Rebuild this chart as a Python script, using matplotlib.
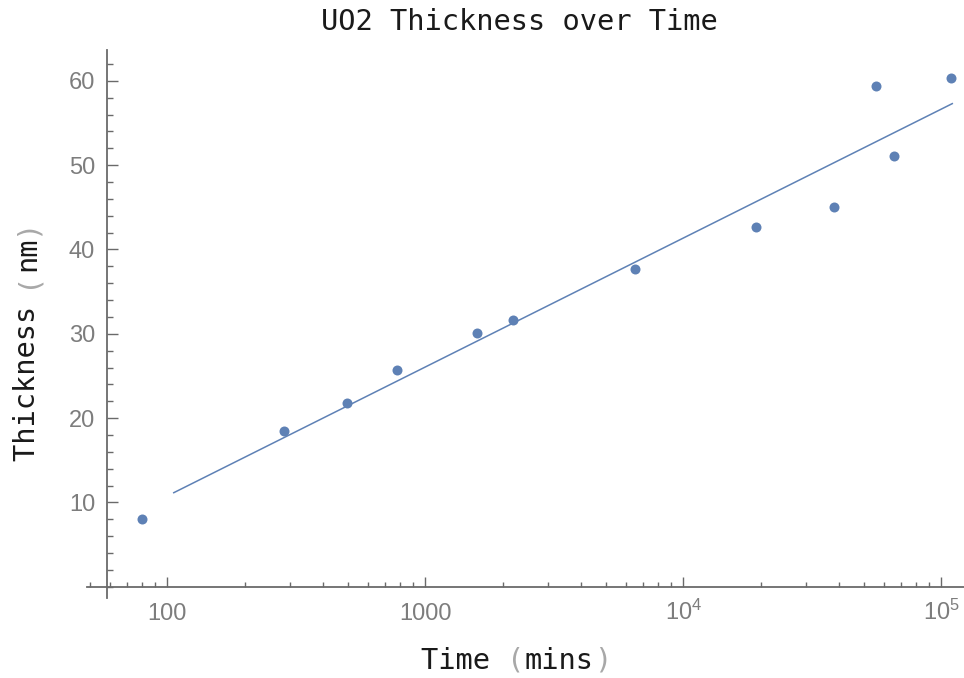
import numpy as np
import matplotlib
matplotlib.use('Agg')
import matplotlib.pyplot as plt
from matplotlib import ticker

plt.rcParams['mathtext.fontset'] = 'custom'
plt.rcParams['mathtext.rm'] = 'Liberation Sans'

# oxide growth measurements
time_min = [80, 284, 497, 780, 1590, 2190, 6500, 19060, 38300, 55700, 65300, 108600]
thickness_nm = [8.0, 18.5, 21.75, 25.7, 30.1, 31.6, 37.65, 42.7, 45.0, 59.4, 51.05, 60.3]

# end points of the log fit line
fit_time = [106, 110300]
fit_thick = [11.15, 57.3]

x_ticks = [100, 1000, 1e4, 1e5]
x_labels = ['100', '1000', r'$\mathregular{10^4}$', r'$\mathregular{10^5}$']
y_ticks = [10, 20, 30, 40, 50, 60]

blue = '#5e81b5'
axis_col = '#6a6a6a'
tick_col = '#7d7d7d'
mono = 'DejaVu Sans Mono'

W, H = 964, 678
fig = plt.figure(figsize=(W / 100, H / 100), dpi=100)
ax = fig.add_axes([87 / W, 1 - 598 / H, 877 / W, 548 / H])

ax.plot(fit_time, fit_thick, color=blue, lw=1.1, zorder=2)
ax.plot(time_min, thickness_nm, 'o', color=blue, ms=7.2, mec='none', zorder=3)

ax.set_xscale('log')
ax.set_xlim(10 ** 1.689, 10 ** 5.088)
ax.set_ylim(-1.34, 63.66)

# axes cross at (58, 0)
for s in ['top', 'right']:
    ax.spines[s].set_visible(False)
ax.spines['left'].set_position(('data', 58.3))
ax.spines['bottom'].set_position(('data', 0))
for s in ['left', 'bottom']:
    ax.spines[s].set_color(axis_col)
    ax.spines[s].set_linewidth(1.3)

ax.xaxis.set_major_locator(ticker.FixedLocator(x_ticks))
ax.xaxis.set_minor_locator(ticker.LogLocator(base=10, subs=np.arange(2, 10)))
ax.xaxis.set_minor_formatter(ticker.NullFormatter())
ax.set_xticks(x_ticks)
ax.set_xticklabels(x_labels, va='baseline', fontsize=17, color=tick_col,
                   family='Liberation Sans')

ax.set_yticks(y_ticks)
ax.yaxis.set_minor_locator(ticker.MultipleLocator(2))
ax.set_yticklabels([str(v) for v in y_ticks], fontsize=17, color=tick_col,
                   family='Liberation Sans')

ax.tick_params(axis='x', which='major', direction='in', length=7, width=1,
               color=axis_col, pad=24)
ax.tick_params(axis='x', which='minor', direction='in', length=3.5, width=1,
               color=axis_col)
ax.tick_params(axis='y', which='major', direction='in', length=8, width=1,
               color=axis_col, pad=8.4)
ax.tick_params(axis='y', which='minor', direction='in', length=4.5, width=1,
               color=axis_col)

fs = 20.7
pitch = 0.602 * fs  # monospace advance in points


def label(parts, x, y, rotation=0):
    # parts: list of (text, colour); laid out cell by cell in monospace
    n = sum(len(t) for t, _ in parts)
    k = 0
    for t, c in parts:
        off = (k + len(t) / 2 - n / 2) * pitch
        dx, dy = (0, off) if rotation else (off, 0)
        ax.annotate(t, xy=(x, y), xycoords='figure pixels', xytext=(dx, dy),
                    textcoords='offset points', ha='center', va='baseline',
                    rotation=rotation, rotation_mode='anchor', family=mono,
                    fontsize=fs, color=c, annotation_clip=False)
        k += len(t)


dark = '#1a1a1a'
paren = '#a8a8a8'
fig.text(519 / W, 1 - 30 / H, 'UO2 Thickness over Time', ha='center',
         va='baseline', family=mono, fontsize=fs, color=dark)
label([('Time ', dark), ('(', paren), ('mins', dark), (')', paren)],
      516, H - 669)
label([('Thickness ', dark), ('(', paren), ('nm', dark), (')', paren)],
      35, H - 340, rotation=90)

fig.savefig('out.png', dpi=100)
